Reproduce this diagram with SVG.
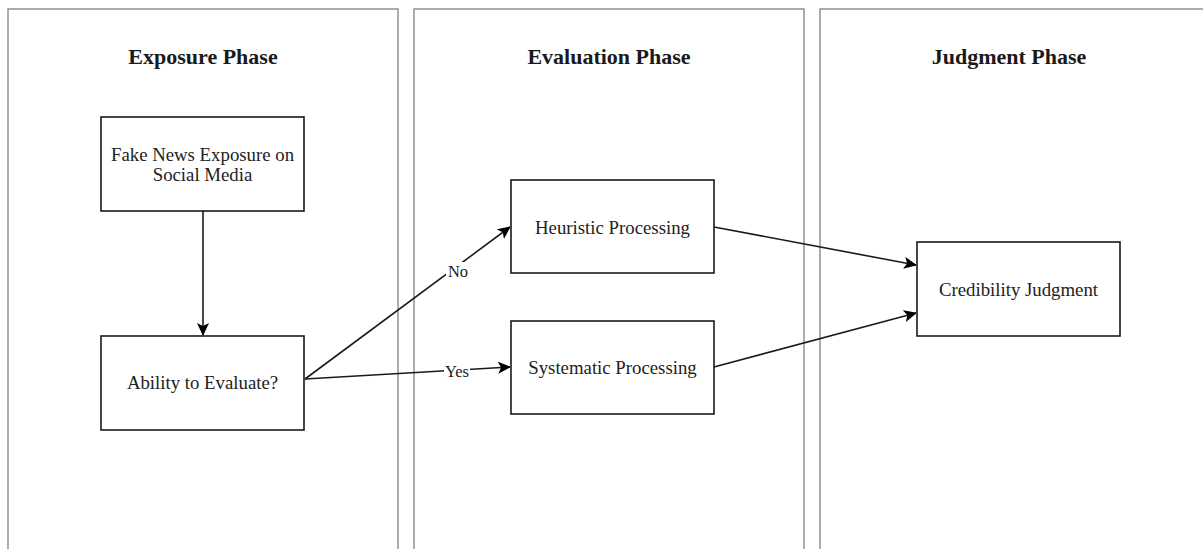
<svg xmlns="http://www.w3.org/2000/svg" width="1203" height="549" viewBox="0 0 1203 549">
<style>
.panel{fill:#fff;stroke:#8a8a8a;stroke-width:1.4}
.box{fill:#fff;stroke:#1a1a1a;stroke-width:1.6}
.title{font-family:"Liberation Serif",serif;font-weight:bold;font-size:22px;fill:#1a1a1a;text-anchor:middle}
.lbl{font-family:"Liberation Serif",serif;font-size:18.8px;fill:#222;text-anchor:middle}
.edge{fill:none;stroke:#1a1a1a;stroke-width:1.6}
.elbl{font-family:"Liberation Serif",serif;font-size:16.5px;fill:#222;text-anchor:middle}
</style>
<defs>
<marker id="arr" viewBox="0 0 13 12" refX="12" refY="6" markerWidth="13" markerHeight="12" markerUnits="userSpaceOnUse" orient="auto">
<path d="M0,0 L13,6 L0,12 L3,6 Z" fill="#000"/>
</marker>
</defs>
<rect width="1203" height="549" fill="#fff"/>
<g id="panel-exposure">
<rect class="panel" x="8" y="9" width="390" height="560"/>
<text class="title" x="203" y="64">Exposure Phase</text>
</g>
<g id="panel-evaluation">
<rect class="panel" x="414" y="9" width="390" height="560"/>
<text class="title" x="609" y="64">Evaluation Phase</text>
</g>
<g id="panel-judgment">
<rect class="panel" x="820" y="9" width="400" height="560"/>
<text class="title" x="1009" y="64">Judgment Phase</text>
</g>
<g id="connectors">
<line class="edge" x1="203" y1="211" x2="203" y2="335" marker-end="url(#arr)"/>
<line class="edge" x1="305" y1="379" x2="510" y2="227" marker-end="url(#arr)"/>
<line class="edge" x1="305" y1="379" x2="510" y2="367" marker-end="url(#arr)"/>
<line class="edge" x1="714" y1="227" x2="916" y2="265" marker-end="url(#arr)"/>
<line class="edge" x1="714" y1="367" x2="916" y2="313" marker-end="url(#arr)"/>
<rect x="446" y="262" width="24" height="19" fill="#fff"/>
<text class="elbl" x="458" y="277">No</text>
<rect x="444" y="363" width="26" height="18" fill="#fff"/>
<text class="elbl" x="457" y="377">Yes</text>
</g>
<g id="node-fake-news">
<rect class="box" x="101" y="117" width="203" height="94"/>
<text class="lbl" x="202.5" y="161">Fake News Exposure on</text>
<text class="lbl" x="202.5" y="181">Social Media</text>
</g>
<g id="node-ability">
<rect class="box" x="101" y="336" width="203" height="94"/>
<text class="lbl" x="202.5" y="389">Ability to Evaluate?</text>
</g>
<g id="node-heuristic">
<rect class="box" x="511" y="180" width="203" height="93"/>
<text class="lbl" x="612.5" y="234">Heuristic Processing</text>
</g>
<g id="node-systematic">
<rect class="box" x="511" y="321" width="203" height="93"/>
<text class="lbl" x="612.5" y="374">Systematic Processing</text>
</g>
<g id="node-credibility">
<rect class="box" x="917" y="242" width="203" height="94"/>
<text class="lbl" x="1018.5" y="296">Credibility Judgment</text>
</g>
</svg>
